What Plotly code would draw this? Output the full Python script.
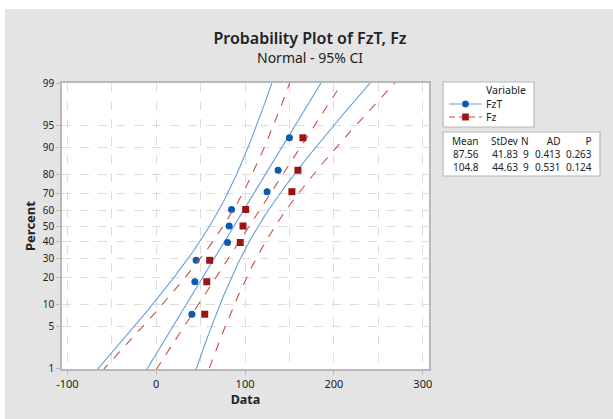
import numpy as np
import plotly.graph_objects as go
from statistics import NormalDist

# ---------------- data ----------------
series_names = ["FzT", "Fz"]
fzt_values = [40.2, 43.5, 45.0, 80.3, 82.1, 84.8, 124.8, 137.2, 149.9]
fz_values = [54.6, 56.9, 60.2, 94.6, 97.7, 100.7, 152.7, 159.5, 165.1]
means = [87.56, 104.8]
stdevs = [41.83, 44.63]
ns = [9, 9]
ad_values = [0.413, 0.531]
p_values = [0.263, 0.124]
pct_ticks = [1, 5, 10, 20, 30, 40, 50, 60, 70, 80, 90, 95, 99]
x_ticks = [-100, 0, 100, 200, 300]
x_minor = [-50, 50, 150, 250]
table_header = ["Mean", "StDev", "N", "AD", "P"]
legend_title = "Variable"
chart_title = "Probability Plot of FzT, Fz"
chart_subtitle = "Normal - 95% CI"

nd = NormalDist()
W, H = 613, 419
L, R, T, B = 62, 184, 83, 50
PW, PH = W - L - R, H - T - B


def px(x):
    return (x - L) / PW


def py(y):
    return (H - B - y) / PH


FONT = "Noto Sans"
TXT = "#222"
blue_pt, blue_ln = "#0a5bb0", "#6a9fd8"
red_pt, red_ln = "#9b1414", "#c8504a"

fig = go.Figure()

zgrid = np.linspace(-2.6, 2.6, 200)
styles = [
    dict(pt=blue_pt, ln=blue_ln, dash="solid", symbol="circle", size=7),
    dict(pt=red_pt, ln=red_ln, dash="dash", symbol="square", size=7),
]
for name, vals, m, s, n, st in zip(series_names, [fzt_values, fz_values], means, stdevs, ns, styles):
    vals = sorted(vals)
    k = len(vals)
    ranks = [(i + 1 - 0.3) / (k + 0.4) for i in range(k)]
    zs = [nd.inv_cdf(r) for r in ranks]
    fit = m + s * zgrid
    half = 1.96 * np.sqrt(s ** 2 / n + zgrid ** 2 * s ** 2 / (2 * (n - 1)))
    for xx in [fit - half, fit, fit + half]:
        fig.add_trace(go.Scatter(x=xx, y=zgrid, mode="lines", showlegend=False,
                                 line=dict(color=st["ln"], width=1.1, dash=st["dash"]),
                                 hoverinfo="skip"))
    fig.add_trace(go.Scatter(x=vals, y=zs, mode="markers", name=name, showlegend=False,
                             marker=dict(color=st["pt"], symbol=st["symbol"], size=st["size"])))

grid_c = "#dcdcdc"
axis_c = "#b8b8b8"
fig.update_xaxes(range=[-106, 307], tickvals=x_ticks, ticktext=[str(v) for v in x_ticks],
                 showgrid=True, gridcolor=grid_c, griddash="dash", gridwidth=1,
                 minor=dict(tickvals=x_minor, showgrid=True, gridcolor=grid_c, griddash="dash", ticklen=0),
                 showline=True, linecolor=axis_c, linewidth=1.5, mirror=True,
                 ticks="outside", ticklen=4, tickcolor=axis_c,
                 zeroline=False, tickfont=dict(family=FONT, size=11, color=TXT),
                 title=dict(text="<b>Data</b>", font=dict(family=FONT, size=12.5, color=TXT), standoff=4))
fig.update_yaxes(range=[-2.34, 2.34],
                 tickvals=[nd.inv_cdf(p / 100) for p in pct_ticks], ticktext=[str(p) for p in pct_ticks],
                 showgrid=True, gridcolor=grid_c, griddash="dash", gridwidth=1,
                 showline=True, linecolor=axis_c, linewidth=1.5, mirror=True,
                 ticks="outside", ticklen=4, tickcolor=axis_c,
                 zeroline=False, tickfont=dict(family=FONT, size=10, color=TXT),
                 title=dict(text="<b>Percent</b>", font=dict(family=FONT, size=13, color=TXT), standoff=4))

shapes = [
    dict(type="rect", xref="paper", yref="paper", x0=px(0), x1=px(W), y0=py(0), y1=py(9),
         fillcolor="white", line=dict(width=0), layer="above"),
    dict(type="rect", xref="paper", yref="paper", x0=px(0), x1=px(5), y0=py(H), y1=py(0),
         fillcolor="white", line=dict(width=0), layer="above"),
    # legend box
    dict(type="rect", xref="paper", yref="paper", x0=px(443), x1=px(534), y0=py(127), y1=py(82),
         fillcolor="white", line=dict(color=axis_c, width=1.2), layer="above"),
    # table box
    dict(type="rect", xref="paper", yref="paper", x0=px(443), x1=px(600), y0=py(176), y1=py(132),
         fillcolor="white", line=dict(color=axis_c, width=1.2), layer="above"),
]
annotations = []

# manual legend
annotations.append(dict(xref="paper", yref="paper", x=px(484), y=py(90), xanchor="left", yanchor="middle",
                        showarrow=False, text=legend_title, font=dict(family=FONT, size=10.5, color=TXT)))
leg_rows = [104, 117]
for name, st, yy in zip(series_names, styles, leg_rows):
    shapes.append(dict(type="line", xref="paper", yref="paper", x0=px(449), x1=px(482), y0=py(yy), y1=py(yy),
                       line=dict(color=st["ln"], width=1.2, dash=st["dash"] if st["dash"] != "dash" else "6px,4px"),
                       layer="above"))
    r = 3.2
    shapes.append(dict(type="circle" if st["symbol"] == "circle" else "rect", xref="paper", yref="paper",
                       x0=px(465.5 - r), x1=px(465.5 + r), y0=py(yy + r), y1=py(yy - r),
                       fillcolor=st["pt"], line=dict(color=st["pt"], width=0.5), layer="above"))
    annotations.append(dict(xref="paper", yref="paper", x=px(484), y=py(yy), xanchor="left", yanchor="middle",
                            showarrow=False, text=name, font=dict(family=FONT, size=10.5, color=TXT)))

# table of statistics: one right-aligned multi-line text per column
col_right = [479, 519, 529, 561, 592]
rows = [table_header]
for m, s, n, a, p in zip(means, stdevs, ns, ad_values, p_values):
    rows.append([f"{m:g}", f"{s:g}", str(n), f"{a:.3f}", f"{p:.3f}"])
for ci in range(len(table_header)):
    col_text = "<br>".join(row[ci] for row in rows)
    annotations.append(dict(xref="paper", yref="paper", x=px(col_right[ci] + 1), y=py(154),
                            xanchor="right", yanchor="middle", align="right", showarrow=False,
                            text=col_text, borderpad=0,
                            font=dict(family=FONT, size=10, color=TXT)))

# subtitle
annotations.append(dict(xref="paper", yref="paper", x=px(310), y=py(57), xanchor="center", yanchor="middle",
                        showarrow=False, text=chart_subtitle, font=dict(family=FONT, size=14, color=TXT)))

fig.update_layout(
    width=W, height=H,
    margin=dict(l=L, r=R, t=T, b=B),
    paper_bgcolor="#e4e4e4", plot_bgcolor="white",
    title=dict(text=chart_title, xref="container", yref="container",
               x=310 / W, xanchor="center", y=1 - 38 / H, yanchor="middle",
               font=dict(family=FONT, size=16, color=TXT, weight=600)),
    shapes=shapes, annotations=annotations,
    showlegend=False,
)
fig.write_html("out.html")
